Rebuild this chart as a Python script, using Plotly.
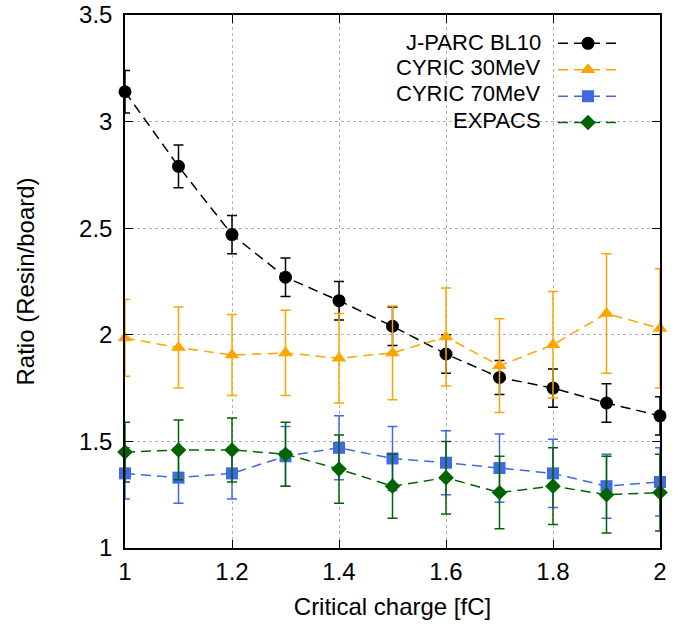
import plotly.graph_objects as go

x = [1.0, 1.1, 1.2, 1.3, 1.4, 1.5, 1.6, 1.7, 1.8, 1.9, 2.0]

jparc = [3.14, 2.79, 2.47, 2.27, 2.16, 2.04, 1.91, 1.80, 1.75, 1.68, 1.62]
jparc_err = [0.10, 0.10, 0.09, 0.09, 0.09, 0.09, 0.09, 0.08, 0.09, 0.09, 0.09]

cyric30 = [1.985, 1.94, 1.905, 1.915, 1.89, 1.915, 1.99, 1.855, 1.953, 2.10, 2.03]
cyric30_err = [0.18, 0.19, 0.19, 0.20, 0.21, 0.22, 0.23, 0.22, 0.25, 0.28, 0.28]

cyric70 = [1.35, 1.33, 1.35, 1.43, 1.47, 1.42, 1.40, 1.375, 1.35, 1.29, 1.31]
cyric70_err = [0.12, 0.12, 0.12, 0.14, 0.15, 0.15, 0.15, 0.16, 0.16, 0.15, 0.16]

expacs = [1.45, 1.46, 1.46, 1.44, 1.37, 1.29, 1.33, 1.26, 1.29, 1.25, 1.26]
expacs_err = [0.14, 0.14, 0.15, 0.15, 0.16, 0.15, 0.17, 0.17, 0.18, 0.18, 0.18]

series_names = ["J-PARC BL10", "CYRIC 30MeV", "CYRIC 70MeV", "EXPACS"]
series_values = [jparc, cyric30, cyric70, expacs]
series_errors = [jparc_err, cyric30_err, cyric70_err, expacs_err]
series_colors = ["black", "#FFA500", "#4169E1", "#006400"]
series_symbols = ["circle", "triangle-up", "square", "diamond"]
series_sizes = [13, 13, 12, 12]

FONT = "Liberation Sans, Arial, sans-serif"
FS = 24
LEG_FS = 22
DASH = "10px,6px"

fig = go.Figure()
for name, ys, errs, color, sym, size in zip(series_names, series_values, series_errors,
                                           series_colors, series_symbols, series_sizes):
    fig.add_trace(go.Scatter(
        x=x, y=ys, name=name, mode="lines+markers", showlegend=False,
        line=dict(color=color, width=1.5, dash=DASH),
        marker=dict(symbol=sym, size=size, color=color),
        error_y=dict(type="data", array=errs, visible=True, color=color,
                     thickness=1.5, width=5),
        cliponaxis=False,
    ))

# legend samples (symbol only; names are drawn right-aligned, gnuplot style)
for name, color, sym, size in zip(series_names, series_colors, series_symbols, series_sizes):
    fig.add_trace(go.Scatter(
        x=[None], y=[None], name=" ", mode="lines+markers", showlegend=True,
        legendgroup=name,
        line=dict(color=color, width=1.5, dash=DASH),
        marker=dict(symbol=sym, size=size, color=color),
    ))

legend_y = [0.949, 0.9006, 0.8518, 0.803]
annotations = [
    dict(text=name, xref="paper", yref="paper", x=0.781, y=ly,
         xanchor="right", yanchor="middle", showarrow=False,
         font=dict(family=FONT, size=LEG_FS, color="black"))
    for name, ly in zip(series_names, legend_y)
]

axis_common = dict(
    showline=True, linecolor="black", linewidth=1.5, mirror="ticks",
    ticks="inside", ticklen=8, tickcolor="black", tickwidth=1,
    showgrid=True, gridcolor="#b0b0b0", griddash="dot", gridwidth=1,
    zeroline=False, automargin=False,
    tickfont=dict(family=FONT, size=FS, color="black"),
)

fig.update_layout(
    width=677, height=628,
    margin=dict(l=125, r=17, t=15, b=80),
    paper_bgcolor="white", plot_bgcolor="white",
    font=dict(family=FONT, size=FS, color="black"),
    xaxis=dict(range=[1, 2], dtick=0.2, tick0=1, ticklabelstandoff=1,
               title=dict(text="Critical charge [fC]", standoff=15,
                          font=dict(family=FONT, size=FS)),
               **axis_common),
    yaxis=dict(range=[1, 3.5], dtick=0.5, tick0=1, ticklabelstandoff=6,
               title=dict(text="Ratio (Resin/board)", standoff=38,
                          font=dict(family=FONT, size=FS)),
               **axis_common),
    legend=dict(x=0.80, y=0.981, xanchor="left", yanchor="top",
                bgcolor="rgba(0,0,0,0)", borderwidth=0,
                font=dict(family=FONT, size=18), tracegroupgap=0,
                itemwidth=60),
    annotations=annotations,
    shapes=[dict(type="rect", xref="paper", yref="paper",
                 x0=0.464, x1=0.972, y0=0.775, y1=0.976,
                 fillcolor="white", line=dict(width=0), layer="between")],
    showlegend=True,
)

fig.write_html("out.html")
